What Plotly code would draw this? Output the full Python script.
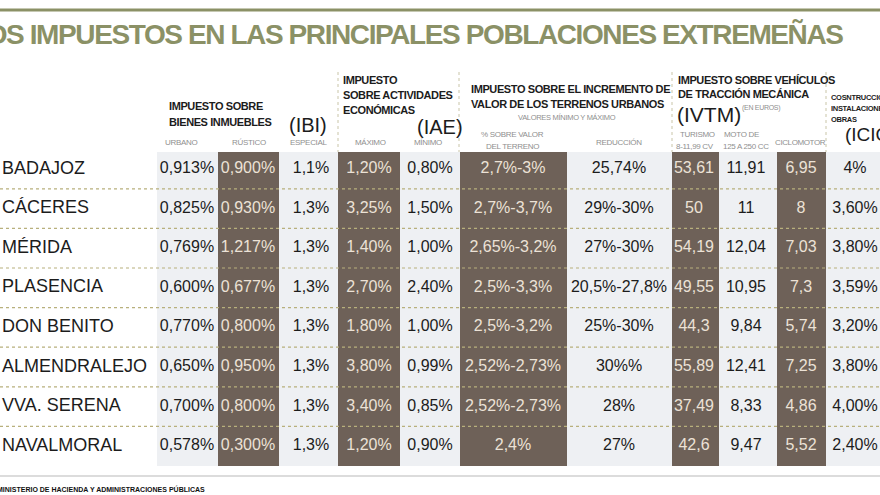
import plotly.graph_objects as go

# ---------------- data ----------------
title = "LOS IMPUESTOS EN LAS PRINCIPALES POBLACIONES EXTREMEÑAS"
source = "MINISTERIO DE HACIENDA Y ADMINISTRACIONES PÚBLICAS"

cities = ["BADAJOZ", "CÁCERES", "MÉRIDA", "PLASENCIA", "DON BENITO",
          "ALMENDRALEJO", "VVA. SERENA", "NAVALMORAL"]

ibi_urbano = ["0,913%", "0,825%", "0,769%", "0,600%", "0,770%", "0,650%", "0,700%", "0,578%"]
ibi_rustico = ["0,900%", "0,930%", "1,217%", "0,677%", "0,800%", "0,950%", "0,800%", "0,300%"]
ibi_especial = ["1,1%", "1,3%", "1,3%", "1,3%", "1,3%", "1,3%", "1,3%", "1,3%"]
iae_maximo = ["1,20%", "3,25%", "1,40%", "2,70%", "1,80%", "3,80%", "3,40%", "1,20%"]
iae_minimo = ["0,80%", "1,50%", "1,00%", "2,40%", "1,00%", "0,99%", "0,85%", "0,90%"]
iivtnu_valor = ["2,7%-3%", "2,7%-3,7%", "2,65%-3,2%", "2,5%-3,3%", "2,5%-3,2%",
                "2,52%-2,73%", "2,52%-2,73%", "2,4%"]
iivtnu_reduccion = ["25,74%", "29%-30%", "27%-30%", "20,5%-27,8%", "25%-30%",
                    "30%%", "28%", "27%"]
ivtm_turismo = ["53,61", "50", "54,19", "49,55", "44,3", "55,89", "37,49", "42,6"]
ivtm_moto = ["11,91", "11", "12,04", "10,95", "9,84", "12,41", "8,33", "9,47"]
ivtm_ciclomotor = ["6,95", "8", "7,03", "7,3", "5,74", "7,25", "4,86", "5,52"]
icio = ["4%", "3,60%", "3,80%", "3,59%", "3,20%", "3,80%", "4,00%", "2,40%"]

columns = [ibi_urbano, ibi_rustico, ibi_especial, iae_maximo, iae_minimo,
           iivtnu_valor, iivtnu_reduccion, ivtm_turismo, ivtm_moto,
           ivtm_ciclomotor, icio]

# ---------------- layout geometry (pixels) ----------------
W, H = 880, 495
col_edges = [157, 218, 279, 338, 400, 460, 567, 672, 719, 777, 826, 886]
col_centers = [187, 248, 311, 369, 430, 513, 619, 694, 746, 801, 855]
dark = [False, True, False, True, False, True, False, True, False, True, False]
row0, pitch = 169.0, 39.6
row_centers = [row0 + pitch * i for i in range(len(cities))]
top, bottom = 152, 466

OLIVE = "#8b9166"
DARK = "#6e6158"
LIGHT = "#eef0f3"
TXT = "#1c1c1c"
TXT_DARK = "#ece2d6"
FONT = "Liberation Sans, Arial, sans-serif"

fig = go.Figure()

shapes = []
shapes.append(dict(type="line", x0=0, x1=W, y0=10, y1=10, line=dict(color=OLIVE, width=3)))
shapes.append(dict(type="rect", x0=col_edges[0], x1=W, y0=top, y1=bottom,
                   fillcolor=LIGHT, line=dict(width=0), layer="below"))
for i, d in enumerate(dark):
    if d:
        shapes.append(dict(type="rect", x0=col_edges[i], x1=col_edges[i + 1], y0=top, y1=bottom,
                           fillcolor=DARK, line=dict(width=0), layer="below"))
for i in range(len(cities) - 1):
    y = (row_centers[i] + row_centers[i + 1]) / 2
    shapes.append(dict(type="line", x0=0, x1=W, y0=y, y1=y,
                       line=dict(color="#b8b07c", width=1.2, dash="dot")))
for x in [338, 459, 672, 826]:
    shapes.append(dict(type="line", x0=x, x1=x, y0=72, y1=top,
                       line=dict(color="#c9c5a8", width=1, dash="dot")))
shapes.append(dict(type="line", x0=0, x1=W, y0=476, y1=476, line=dict(color="#dcdcdc", width=2)))

fig.add_trace(go.Scatter(x=[2] * len(cities), y=row_centers, text=cities, mode="text",
                         textposition="middle right",
                         textfont=dict(family=FONT, size=18, color=TXT),
                         hoverinfo="skip", showlegend=False))
for i, vals in enumerate(columns):
    fig.add_trace(go.Scatter(x=[col_centers[i]] * len(vals), y=row_centers, text=vals,
                             mode="text", textposition="middle center",
                             textfont=dict(family=FONT, size=16,
                                           color=TXT_DARK if dark[i] else TXT),
                             hoverinfo="skip", showlegend=False, cliponaxis=False))

ann = []
def A(x, y, t, size, color=TXT, bold=False, xanchor="left", ls=None):
    s = ("<b>%s</b>" % t) if bold else t
    if ls is not None:
        s = '<span style="letter-spacing:%spx">%s</span>' % (ls, s)
    ann.append(dict(x=x, y=y, text=s, showarrow=False,
                    xanchor=xanchor, yanchor="middle",
                    font=dict(family=FONT, size=size, color=color)))

HS = 11
HL = -0.4
SUB = "#8f8f8f"
SS = 8

# title
A(845, 34, title, 28, color=OLIVE, bold=True, xanchor="right", ls=-1.4)

# IBI header
A(167, 106, "IMPUESTO SOBRE", HS, bold=True, ls=HL)
A(167, 122, "BIENES INMUEBLES", HS, bold=True, ls=HL)
A(287, 125, "(IBI)", 20)
A(181, 142, "URBANO", SS, SUB, xanchor="center", ls=-0.3)
A(249, 142, "RÚSTICO", SS, SUB, xanchor="center", ls=-0.3)
A(309, 142, "ESPECIAL", SS, SUB, xanchor="center", ls=-0.3)

# IAE header
A(341, 80, "IMPUESTO", HS, bold=True, ls=HL)
A(341, 95, "SOBRE ACTIVIDADES", HS, bold=True, ls=HL)
A(341, 110, "ECONÓMICAS", HS, bold=True, ls=HL)
A(415, 127, "(IAE)", 20)
A(370, 142, "MÁXIMO", SS, SUB, xanchor="center", ls=-0.3)
A(428, 142, "MÍNIMO", SS, SUB, xanchor="center", ls=-0.3)

# IIVTNU header
A(469, 89, "IMPUESTO SOBRE EL INCREMENTO DE", HS, bold=True, ls=HL)
A(469, 104, "VALOR DE LOS TERRENOS URBANOS", HS, bold=True, ls=HL)
A(567, 117, "VALORES MÍNIMO Y MÁXIMO", 7.5, SUB, xanchor="center", ls=-0.3)
A(512, 134, "% SOBRE VALOR", SS, SUB, xanchor="center", ls=-0.3)
A(512, 146, "DEL TERRENO", SS, SUB, xanchor="center", ls=-0.3)
A(619, 142, "REDUCCIÓN", SS, SUB, xanchor="center", ls=-0.3)

# IVTM header
A(676, 80, "IMPUESTO SOBRE VEHÍCULOS", HS, bold=True, ls=HL)
A(676, 94, "DE TRACCIÓN MECÁNICA", HS, bold=True, ls=HL)
A(675, 114, "(IVTM)", 21)
A(740, 108, "(EN EUROS)", 7, SUB, ls=-0.3)
A(678, 134, "TURISMO", SS, SUB, ls=-0.3)
A(674, 146, "8-11,99 CV", SS, SUB, ls=-0.3)
A(722, 134, "MOTO DE", SS, SUB, ls=-0.3)
A(721, 146, "125 A 250 CC", SS, SUB, ls=-0.3)
A(800, 142, "CICLOMOTOR", SS, SUB, xanchor="center", ls=-0.4)

# ICIO header
A(829, 97, "COSNTRUCCIONES,", 7.5, bold=True, ls=-0.3)
A(829, 108, "INSTALACIONES Y", 7.5, bold=True, ls=-0.3)
A(829, 119, "OBRAS", 7.5, bold=True, ls=-0.3)
A(843, 134, "(ICIO)", 19)

# source
A(207, 489, source, 7, "#111", bold=True, xanchor="right")

fig.update_layout(
    width=W, height=H, margin=dict(l=0, r=0, t=0, b=0),
    paper_bgcolor="white", plot_bgcolor="white",
    xaxis=dict(range=[0, W], visible=False, fixedrange=True),
    yaxis=dict(range=[H, 0], visible=False, fixedrange=True),
    shapes=shapes, annotations=ann, showlegend=False,
)
fig.write_html("out.html", config={"displayModeBar": False},
               post_script="document.body.style.margin='0';document.body.style.padding='0';")
